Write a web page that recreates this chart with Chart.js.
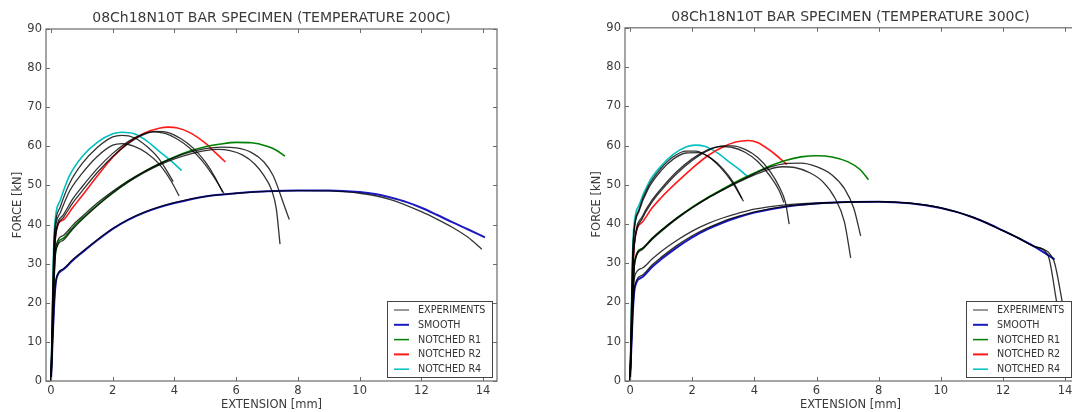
<!DOCTYPE html>
<html>
<head>
<meta charset="utf-8">
<script src="https://cdn.jsdelivr.net/npm/chart.js@4.4.0/dist/chart.umd.min.js"></script>
<style>
  html, body { margin: 0; padding: 0; background: #fff; overflow: hidden; width: 1072px; height: 412px; }
  canvas { position: absolute; top: 0; }
  #c200 { left: 0; }
  #c300 { left: 579px; }
</style>
</head>
<body>
<canvas id="c200" width="520" height="412"></canvas>
<canvas id="c300" width="520" height="412"></canvas>
<script>
// tick values
const xTicks = [0, 2, 4, 6, 8, 10, 12, 14];
const yTicks = [0, 10, 20, 30, 40, 50, 60, 70, 80, 90];

const legendLabels = ['EXPERIMENTS', 'SMOOTH', 'NOTCHED R1', 'NOTCHED R2', 'NOTCHED R4'];

// ---- 200C : [extension mm, force kN] ----
const exp200_smooth = [[0,0],[0.06,12],[0.12,22],[0.18,26.5],[0.4,28.7],[0.7,31],[1,33],[1.5,36.1],[2,39],[2.5,41.3],[3,43.1],[3.5,44.5],[4,45.6],[5,47.2],[6,48],[7,48.5],[8,48.7],[9,48.6],[10,48],[11,46.4],[12,43.3],[12.5,41.4],[13,39.3],[13.5,36.8],[13.96,33.7]];
const exp200_r1a = [[0,0],[0.05,12],[0.1,26],[0.16,33.2],[0.4,36],[0.7,38.8],[1,41.2],[1.5,44.8],[2,48],[2.5,50.8],[3,53.2],[3.5,55.2],[4,56.8],[4.5,58],[5,58.9],[5.4,59.2],[5.8,58.9],[6.2,57.8],[6.6,55.5],[6.9,52.5],[7.15,48.8],[7.3,44],[7.42,35]];
const exp200_r1b = [[0,0],[0.05,12],[0.1,27],[0.16,34.5],[0.4,37.2],[0.7,39.8],[1,42],[1.5,45.5],[2,48.5],[2.5,51.2],[3,53.5],[3.5,55.5],[4,57.2],[4.5,58.5],[5,59.4],[5.5,59.8],[6,59.6],[6.5,58.4],[6.9,56],[7.2,52.5],[7.4,48.4],[7.55,45],[7.72,41.3]];
const exp200_r2a = [[0,0],[0.05,14],[0.1,30],[0.16,37.5],[0.4,41.8],[0.7,45.5],[1,48.5],[1.5,53.3],[2,57.4],[2.5,60.7],[3,63],[3.4,63.8],[3.8,63.5],[4.2,62],[4.6,59.6],[5,56],[5.3,52.3],[5.56,48.3]];
const exp200_r2b = [[0,0],[0.05,14],[0.1,30],[0.16,38],[0.4,42.5],[0.7,46.5],[1,49.6],[1.5,54.3],[2,58.2],[2.5,61.2],[3,63.2],[3.3,63.7],[3.7,63.3],[4.1,61.8],[4.5,59.5],[4.9,56.3],[5.25,52.5],[5.6,48]];
const exp200_r4a = [[0,0],[0.04,16],[0.08,31],[0.12,38.5],[0.3,44.5],[0.6,50.5],[1,55.5],[1.5,59.7],[2,62.4],[2.3,62.8],[2.7,62.2],[3.1,60],[3.5,56.8],[3.96,51]];
const exp200_r4b = [[0,0],[0.04,16],[0.08,30],[0.12,37.5],[0.3,43],[0.6,48.5],[1,53],[1.5,57.4],[2,60.3],[2.3,60.7],[2.7,60],[3.1,58.3],[3.5,55.5],[3.9,51],[4.15,47.3]];
const smooth200 = [[0,0],[0.06,12],[0.12,22],[0.18,26.3],[0.4,28.5],[0.7,30.8],[1,32.8],[1.5,36],[2,38.9],[2.5,41.2],[3,43],[3.5,44.4],[4,45.5],[5,47.2],[6,48],[7,48.5],[8,48.7],[9,48.7],[10,48.3],[10.5,47.8],[11,46.9],[11.5,45.8],[12,44.3],[12.5,42.5],[13,40.6],[13.5,38.8],[14.06,36.7]];
const r1_200 = [[0,0],[0.05,12],[0.1,26],[0.16,33.8],[0.4,36.5],[0.7,39.2],[1,41.5],[1.5,45],[2,48.2],[2.5,51],[3,53.4],[3.5,55.5],[4,57.3],[4.5,58.8],[5,59.9],[5.5,60.6],[6,61],[6.5,60.9],[7,60],[7.3,59],[7.58,57.5]];
const r2_200 = [[0,0],[0.05,14],[0.1,30],[0.16,38.3],[0.4,41.2],[0.7,44.3],[1,47.3],[1.5,52.4],[2,57.2],[2.5,60.9],[3,63.3],[3.5,64.6],[3.8,64.9],[4.1,64.7],[4.5,63.5],[5,60.8],[5.3,58.6],[5.65,56]];
const r4_200 = [[0,0],[0.04,16],[0.08,32],[0.12,40],[0.3,46.2],[0.6,52.5],[1,57.3],[1.5,61],[2,63.2],[2.3,63.6],[2.7,63.2],[3.1,61.4],[3.5,58.8],[3.9,56.2],[4.23,53.8]];

// ---- 300C ----
const exp300_smootha = [[0,0],[0.05,12],[0.1,22],[0.16,27],[0.4,28.8],[0.7,31],[1,33],[1.5,35.8],[2,38.2],[2.5,40.1],[3,41.6],[3.5,42.8],[4,43.8],[5,44.9],[6,45.4],[7,45.6],[8,45.7],[9,45.3],[10,44.1],[11,41.8],[12,38.3],[12.5,36.4],[13,34.3],[13.45,32],[13.72,20.5],[14.15,2]];
const exp300_smoothb = [[0,0],[0.05,10],[0.1,19],[0.16,24.5],[0.4,27],[0.7,29.5],[1,31.5],[1.5,34.5],[2,37],[2.5,39],[3,40.7],[3.5,42],[4,43.1],[5,44.5],[6,45.2],[7,45.6],[8,45.7],[9,45.3],[10,44.1],[11,41.8],[12,38.3],[12.5,36.4],[13,34.3],[13.62,31],[13.9,20.5],[14.33,2]];
const exp300_r1a = [[0,0],[0.05,12],[0.1,24],[0.16,30.5],[0.4,33.5],[0.7,36],[1,38.1],[1.5,41.3],[2,44.1],[2.5,46.6],[3,48.8],[3.5,50.9],[4,52.8],[4.5,54.5],[5,55.4],[5.5,55.5],[6,54.6],[6.5,52.5],[6.9,49],[7.2,44],[7.42,37]];
const exp300_r1b = [[0,0],[0.05,12],[0.1,24],[0.16,30.8],[0.4,33.8],[0.7,36.3],[1,38.4],[1.5,41.5],[2,44.2],[2.5,46.6],[3,48.7],[3.5,50.7],[4,52.5],[4.5,54],[4.9,54.6],[5.3,54.4],[5.8,53],[6.2,50.8],[6.6,46.5],[6.9,40.5],[7.1,31.4]];
const exp300_r2a = [[0,0],[0.05,14],[0.1,30],[0.16,36],[0.4,41.5],[0.7,45.5],[1,48.5],[1.5,52.8],[2,56.2],[2.5,58.7],[3,59.9],[3.3,59.9],[3.7,59],[4.1,57],[4.5,53.5],[4.8,49.5],[5,45.5],[5.12,40]];
const exp300_r2b = [[0,0],[0.05,14],[0.1,30],[0.16,36.5],[0.4,42],[0.7,46],[1,49],[1.5,53.3],[2,56.6],[2.5,58.9],[2.9,59.7],[3.3,59.5],[3.7,58.3],[4.1,56],[4.5,52.3],[4.8,48.5],[4.95,45.5]];
const exp300_r4a = [[0,0],[0.04,16],[0.08,31],[0.12,37.5],[0.3,44],[0.6,49.8],[1,54.2],[1.4,57.2],[1.8,58.6],[2.1,58.6],[2.5,57.3],[2.9,54.5],[3.3,50.5],[3.65,45.8]];
const exp300_r4b = [[0,0],[0.04,16],[0.08,30],[0.12,37],[0.3,43.5],[0.6,49.2],[1,53.6],[1.4,56.6],[1.8,58.1],[2.2,58.2],[2.6,56.8],[3,54],[3.35,50.3],[3.6,46.5]];
const smooth300 = [[0,0],[0.05,10],[0.1,19],[0.16,24],[0.4,26.5],[0.7,29],[1,31],[1.5,34],[2,36.6],[2.5,38.7],[3,40.4],[3.5,41.8],[4,42.9],[5,44.4],[6,45.2],[7,45.6],[8,45.7],[9,45.3],[10,44.1],[10.5,43.1],[11,41.8],[11.5,40.2],[12,38.3],[12.5,36.4],[13,34.3],[13.66,31]];
const r1_300 = [[0,0],[0.05,12],[0.1,24],[0.16,31],[0.4,33.8],[0.7,36.2],[1,38.3],[1.5,41.5],[2,44.3],[2.5,46.8],[3,49],[3.5,51.1],[4,53],[4.5,54.8],[5,56.2],[5.5,57.1],[6,57.4],[6.5,57.1],[7,55.9],[7.4,53.9],[7.67,51.3]];
const r2_300 = [[0,0],[0.05,14],[0.1,29],[0.16,36.5],[0.4,40.5],[0.7,44],[1,46.7],[1.5,50.6],[2,54.2],[2.5,57.4],[3,59.7],[3.4,60.9],[3.8,61.3],[4.1,60.8],[4.5,58.8],[5.05,55.2]];
const r4_300 = [[0,0],[0.04,16],[0.08,32],[0.12,39],[0.3,45],[0.6,50.5],[1,54.8],[1.4,57.8],[1.8,59.6],[2.1,60.1],[2.4,59.8],[2.8,58.2],[3.2,55.8],[3.5,54],[3.8,52]];

const FONT = 'DejaVu Sans';
const TXT = '#3a3a3a';
const FRAME = '#6a6a6a';
const EXP = 'rgba(0,0,0,0.8)';
const EXP_LEG = '#777';
const BLUE = '#1a1ac0';
const GREEN = '#008000';
const RED = '#ff1a1a';
const CYAN = '#00bfbf';
const legendColors = [EXP_LEG, BLUE, GREEN, RED, CYAN];

function ds(pts, color, w) {
  return {
    data: pts.map(p => ({ x: p[0], y: p[1] })),
    showLine: true,
    borderColor: color,
    borderWidth: w,
    pointRadius: 0,
    cubicInterpolationMode: 'monotone'
  };
}

// frame, inward ticks on all sides, and the legend box on top of the lines
const framePlugin = {
  id: 'frame',
  afterDatasetsDraw(chart) {
    const a = chart.chartArea, ctx = chart.ctx;
    const xs = chart.scales.x, ys = chart.scales.y;
    ctx.save();
    ctx.strokeStyle = FRAME;
    ctx.lineWidth = 1.2;
    ctx.strokeRect(a.left, a.top, a.right - a.left, a.bottom - a.top);
    ctx.lineWidth = 1;
    ctx.beginPath();
    xTicks.forEach(v => {
      const px = Math.round(xs.getPixelForValue(v)) + 0.5;
      ctx.moveTo(px, a.bottom); ctx.lineTo(px, a.bottom - 4);
      ctx.moveTo(px, a.top); ctx.lineTo(px, a.top + 4);
    });
    yTicks.forEach(v => {
      const py = Math.round(ys.getPixelForValue(v)) + 0.5;
      ctx.moveTo(a.left, py); ctx.lineTo(a.left + 4, py);
      ctx.moveTo(a.right, py); ctx.lineTo(a.right - 4, py);
    });
    ctx.stroke();
    ctx.restore();
  },
  afterDraw(chart) {
    const a = chart.chartArea, ctx = chart.ctx;
    const w = 105, h = 76;
    const left = a.right - 5 - w, top = a.bottom - 4 - h;
    ctx.save();
    ctx.fillStyle = '#fff';
    ctx.fillRect(left, top, w, h);
    ctx.strokeStyle = '#444';
    ctx.lineWidth = 1;
    ctx.strokeRect(left + 0.5, top + 0.5, w, h);
    ctx.font = '9.6px "' + FONT + '"';
    ctx.textBaseline = 'middle';
    ctx.fillStyle = '#333';
    legendLabels.forEach((lab, i) => {
      const y = top + 9 + i * 14.8;
      ctx.strokeStyle = legendColors[i];
      ctx.lineWidth = (i === 1 || i === 3) ? 2 : 1.5;
      ctx.beginPath();
      ctx.moveTo(left + 7, y); ctx.lineTo(left + 22, y);
      ctx.stroke();
      ctx.fillText(lab, left + 31, y + 0.5);
    });
    ctx.restore();
  }
};

function makeChart(id, title, sets, titlePad, xmax) {
  const tickFont = { family: FONT, size: 11.5 };
  return new Chart(document.getElementById(id), {
    type: 'scatter',
    data: { datasets: sets },
    options: {
      responsive: false,
      animation: false,
      events: [],
      layout: { padding: { left: 0, right: 23, top: 0, bottom: 0 } },
      plugins: {
        legend: { display: false },
        tooltip: { enabled: false },
        title: {
          display: true, text: title, fullSize: false, color: TXT,
          font: { family: FONT, size: 14, weight: 'normal' },
          padding: titlePad
        }
      },
      scales: {
        x: {
          type: 'linear', min: -0.162, max: xmax,
          grid: { display: false, drawTicks: false },
          border: { display: false },
          afterBuildTicks: s => { s.ticks = xTicks.map(v => ({ value: v })); },
          afterFit: s => { s.height = 31; },
          ticks: { padding: 3, color: TXT, font: tickFont },
          title: { display: true, text: 'EXTENSION [mm]', color: TXT, font: tickFont, padding: 0 }
        },
        y: {
          type: 'linear', min: 0, max: 90,
          grid: { display: false, drawTicks: false },
          border: { display: false },
          afterBuildTicks: s => { s.ticks = yTicks.map(v => ({ value: v })); },
          afterFit: s => { s.width = 46; },
          ticks: { padding: 4, color: TXT, font: tickFont },
          title: { display: true, text: 'FORCE [kN]', color: TXT, font: tickFont, padding: { top: 11.4, bottom: 0 } }
        }
      }
    },
    plugins: [framePlugin]
  });
}

makeChart('c200', '08Ch18N10T BAR SPECIMEN (TEMPERATURE 200C)', [
  ds(exp200_smooth, EXP, 1.3), ds(exp200_r1a, EXP, 1.3), ds(exp200_r1b, EXP, 1.3),
  ds(exp200_r2a, EXP, 1.3), ds(exp200_r2b, EXP, 1.3), ds(exp200_r4a, EXP, 1.3), ds(exp200_r4b, EXP, 1.3),
  ds(smooth200, BLUE, 2), ds(r1_200, GREEN, 1.6), ds(r2_200, RED, 1.6), ds(r4_200, CYAN, 1.6)
], { top: 10.3, bottom: 1.9 }, 14.45);

makeChart('c300', '08Ch18N10T BAR SPECIMEN (TEMPERATURE 300C)', [
  ds(exp300_smootha, EXP, 1.3), ds(exp300_smoothb, EXP, 1.3), ds(exp300_r1a, EXP, 1.3), ds(exp300_r1b, EXP, 1.3),
  ds(exp300_r2a, EXP, 1.3), ds(exp300_r2b, EXP, 1.3), ds(exp300_r4a, EXP, 1.3), ds(exp300_r4b, EXP, 1.3),
  ds(smooth300, BLUE, 2), ds(r1_300, GREEN, 1.6), ds(r2_300, RED, 1.6), ds(r4_300, CYAN, 1.6)
], { top: 8.8, bottom: 2.2 }, 14.35);
</script>
</body>
</html>
